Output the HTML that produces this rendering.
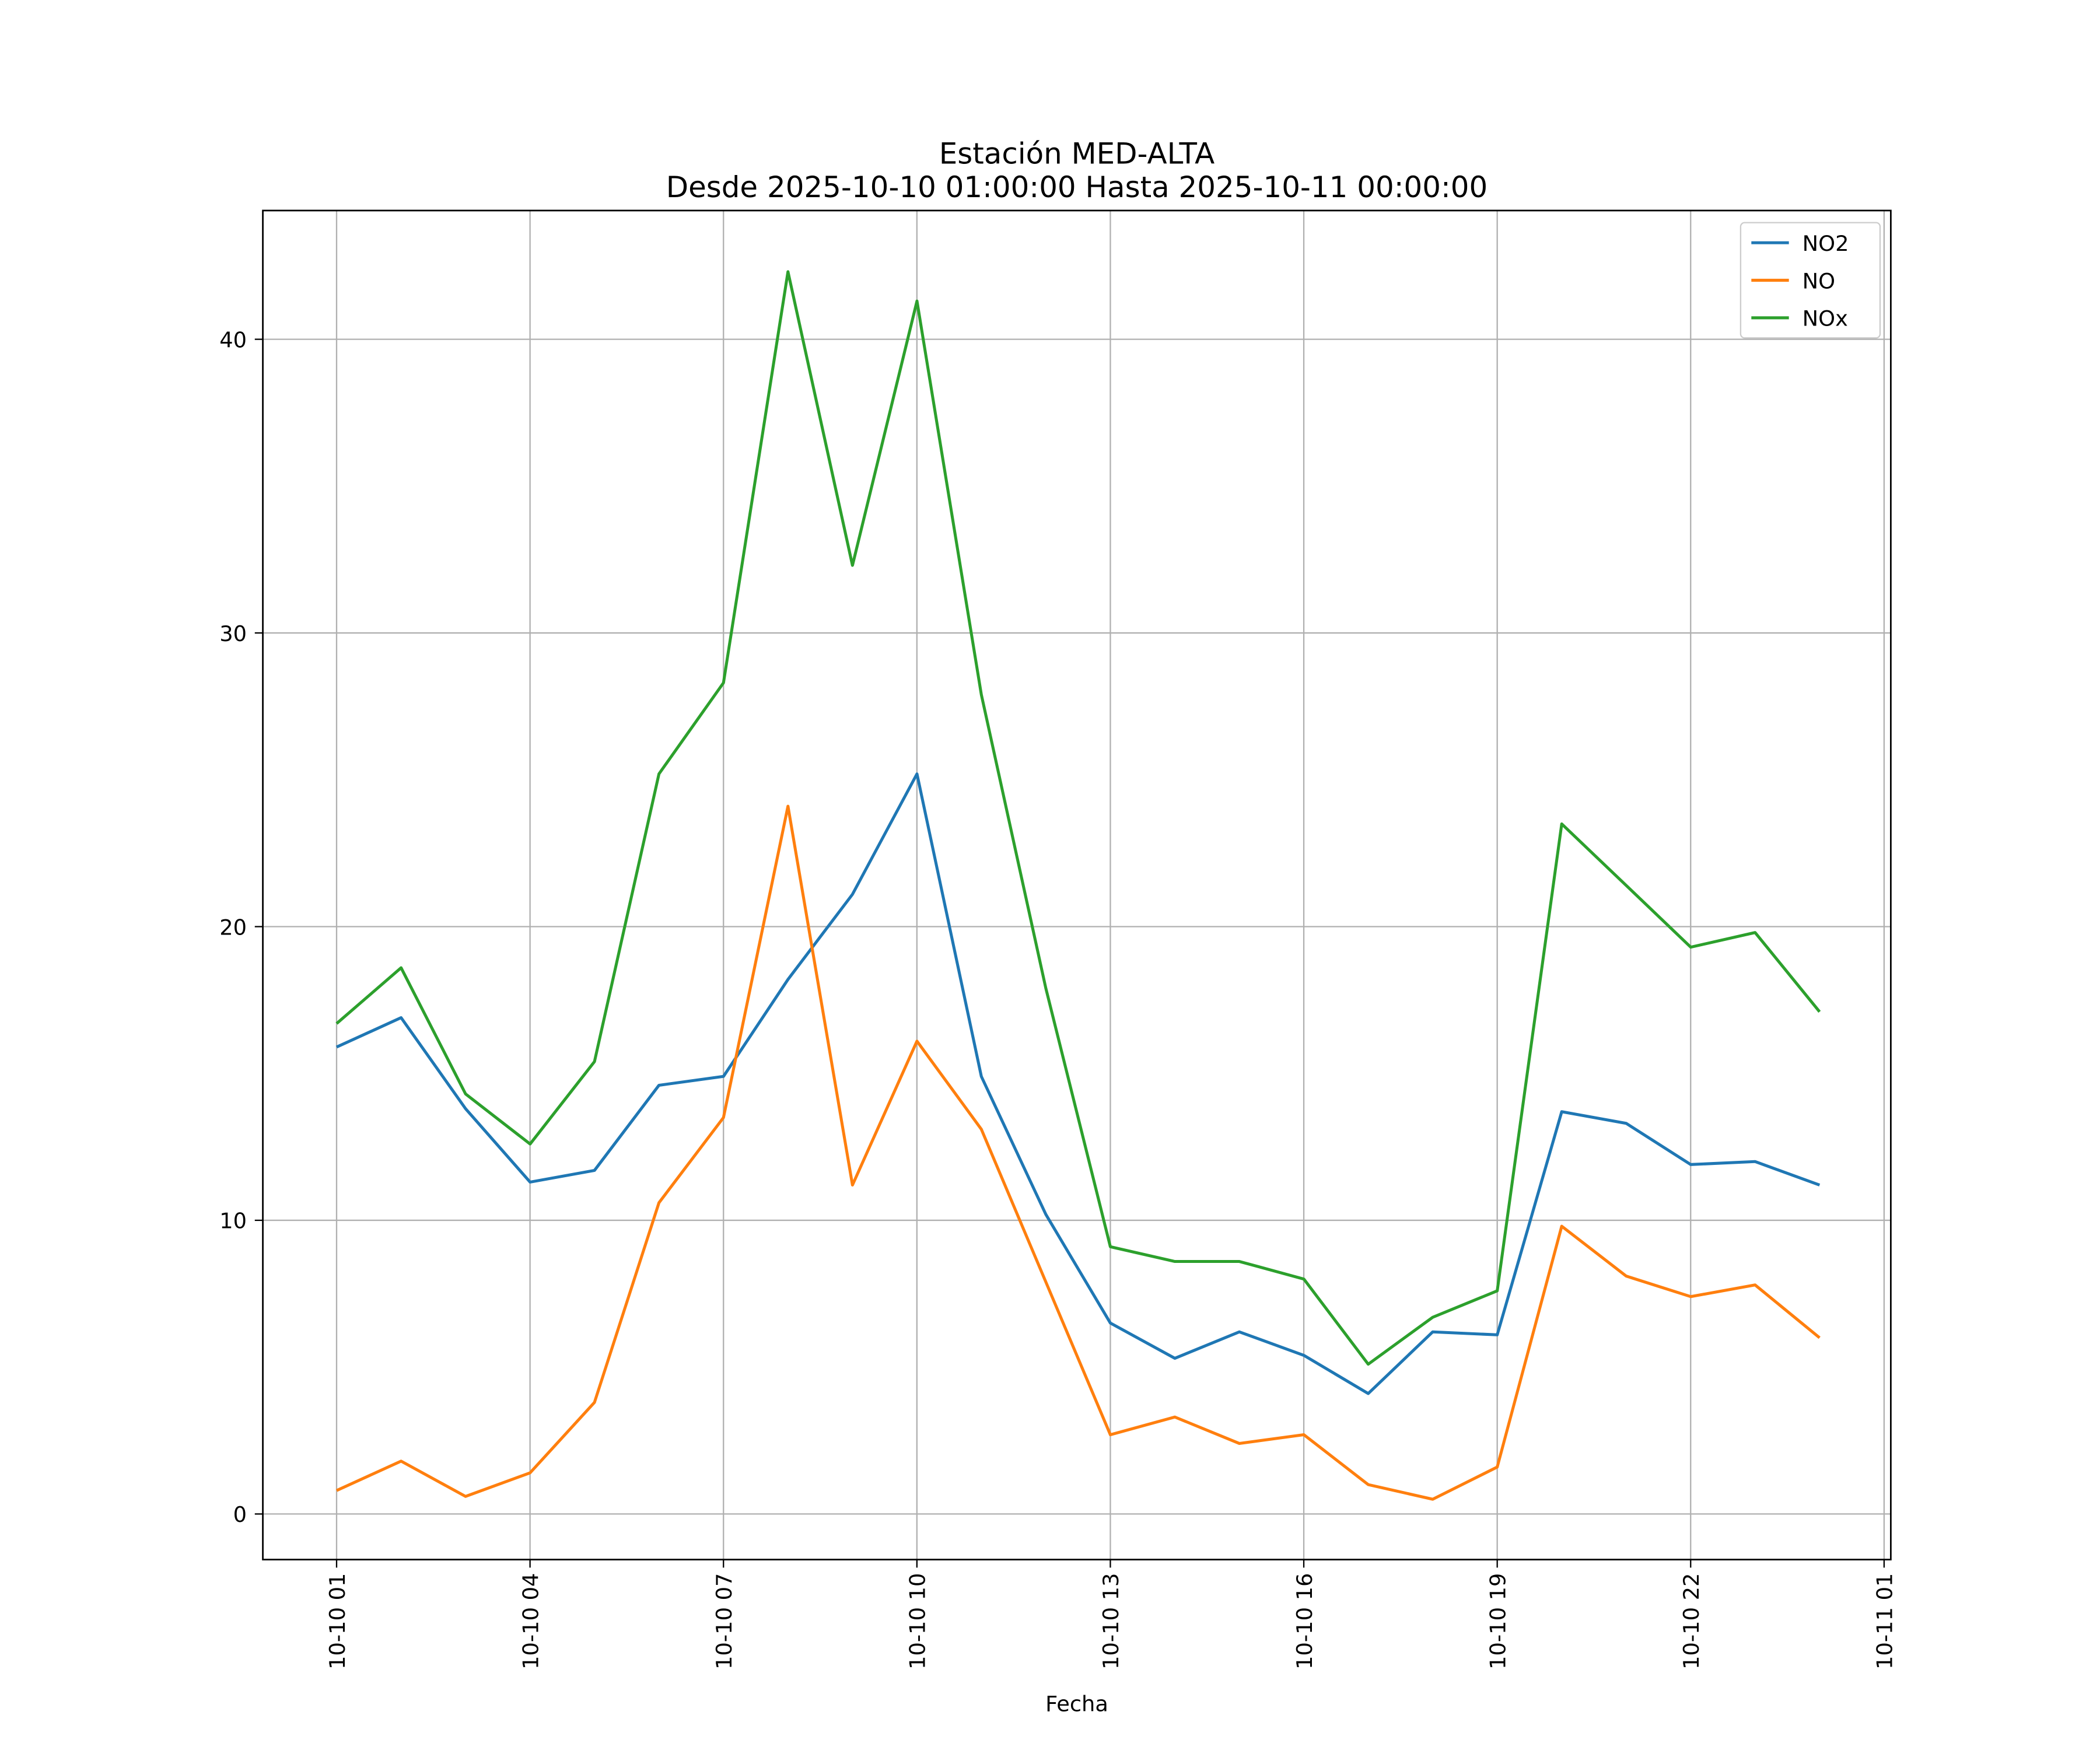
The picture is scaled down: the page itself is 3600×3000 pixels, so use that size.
<!DOCTYPE html>
<html><head><meta charset="utf-8">
<style>
html,body{margin:0;padding:0;background:#fff;}
svg{display:block;font-family:"DejaVu Sans","Liberation Sans",sans-serif;}
</style></head>
<body>
<svg id="chart" width="3600" height="3000" viewBox="0 0 1566 1305" preserveAspectRatio="none" xmlns="http://www.w3.org/2000/svg">
<rect width="1566" height="1305" fill="#fff"/>
<text x="803" y="122" font-size="21.7" text-anchor="middle">Estación MED-ALTA</text>
<text x="803" y="147" font-size="21.7" text-anchor="middle">Desde 2025-10-10 01:00:00 Hasta 2025-10-11 00:00:00</text>
<g id="grid"></g>
<g id="series"></g>
<rect x="196" y="157" width="1214" height="1006" fill="none" stroke="#000" stroke-width="1.2"/>
<g id="ticks"></g>
<text x="803" y="1276" font-size="16" text-anchor="middle">Fecha</text>
<g>
<rect x="1298" y="166" width="104" height="86" fill="#fff" stroke="#ccc" rx="3"/>
<g><line x1="1306" y1="181" x2="1334" y2="181" stroke="#1f77b4" stroke-width="2.2"/><text x="1344" y="187" font-size="16">NO2</text></g>
<g><line x1="1306" y1="209" x2="1334" y2="209" stroke="#ff7f0e" stroke-width="2.2"/><text x="1344" y="215" font-size="16">NO</text></g>
<g><line x1="1306" y1="237" x2="1334" y2="237" stroke="#2ca02c" stroke-width="2.2"/><text x="1344" y="243" font-size="16">NOx</text></g>
</g>
</svg>
<script>
const hours = [1,2,3,4,5,6,7,8,9,10,11,12,13,14,15,16,17,18,19,20,21,22,23,24];
const no2 = [15.9,16.9,13.8,11.3,11.7,14.6,14.9,18.2,21.1,25.2,14.9,10.2,6.5,5.3,6.2,5.4,4.1,6.2,6.1,13.7,13.3,11.9,12.0,11.2];
const no = [0.8,1.8,0.6,1.4,3.8,10.6,13.5,24.1,11.2,16.1,13.1,7.9,2.7,3.3,2.4,2.7,1.0,0.5,1.6,9.8,8.1,7.4,7.8,6.0];
const nox = [16.7,18.6,14.3,12.6,15.4,25.2,28.3,42.3,32.3,41.3,27.9,17.9,9.1,8.6,8.6,8.0,5.1,6.7,7.6,23.5,21.4,19.3,19.8,17.1];
const yTicks = [0,10,20,30,40];
const xTickHours = [1,4,7,10,13,16,19,22,25];
const xTickLabels = ["10-10 01","10-10 04","10-10 07","10-10 10","10-10 13","10-10 16","10-10 19","10-10 22","10-11 01"];

const NS="http://www.w3.org/2000/svg";
const xS = h => 251 + (h-1)*(1154/24);
const yS = v => 1129 - v*21.9;
function mk(tag, attrs, parent){const e=document.createElementNS(NS,tag);for(const k in attrs)e.setAttribute(k,attrs[k]);parent.appendChild(e);return e;}
const grid=document.getElementById('grid'), ticks=document.getElementById('ticks'), series=document.getElementById('series');

yTicks.forEach(v=>{
  const y=yS(v);
  const g=mk('line',{x1:196,x2:1410,y1:y,y2:y,stroke:'#b0b0b0','stroke-width':1},grid);
  
  
  mk('line',{x1:190,x2:196,y1:y,y2:y,stroke:'#000','stroke-width':1},ticks);
  const t=mk('text',{x:184,y:y+6,'font-size':16,'text-anchor':'end'},ticks);
  t.textContent=v;
  
  
});
xTickHours.forEach((h,i)=>{
  const x=xS(h);
  const g=mk('line',{x1:x,x2:x,y1:157,y2:1163,stroke:'#b0b0b0','stroke-width':1},grid);
  
  
  mk('line',{x1:x,x2:x,y1:1163,y2:1169,stroke:'#000','stroke-width':1},ticks);
  const t=mk('text',{x:0,y:0,'font-size':16,'text-anchor':'end',transform:`translate(${x+6},1173) rotate(-90)`},ticks);
  t.textContent=xTickLabels[i];
  
  
});
[[no2,'#1f77b4','line-no2'],[no,'#ff7f0e','line-no'],[nox,'#2ca02c','line-nox']].forEach(([d,c,n])=>{
  const pts=d.map((v,i)=>xS(hours[i]).toFixed(1)+','+yS(v).toFixed(1)).join(' ');
  const p=mk('polyline',{points:pts,fill:'none',stroke:c,'stroke-width':2.2,'stroke-linejoin':'round'},series);
  
  
});
</script>
</body></html>
